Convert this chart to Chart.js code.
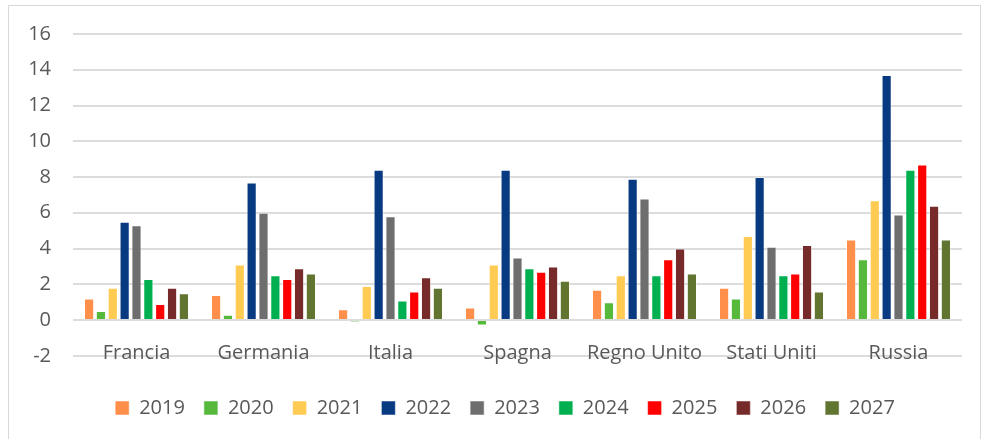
<!DOCTYPE html>
<html>
<head>
<meta charset="utf-8">
<script src="https://cdn.jsdelivr.net/npm/chart.js@4"></script>
<style>
  html, body { margin: 0; padding: 0; background: #fff; }
  #wrap { width: 981px; height: 439px; }
</style>
</head>
<body>
<div id="wrap"><canvas id="chart" width="981" height="439"></canvas></div>
<script>
// Paesi sull'asse x
const paesi = ['Francia', 'Germania', 'Italia', 'Spagna', 'Regno Unito', 'Stati Uniti', 'Russia'];

// Valori per anno, un elemento per paese
const anni = ['2019', '2020', '2021', '2022', '2023', '2024', '2025', '2026', '2027'];
const v2019 = [1.2, 1.4, 0.6, 0.7, 1.7, 1.8, 4.5];
const v2020 = [0.5, 0.3, -0.1, -0.3, 1.0, 1.2, 3.4];
const v2021 = [1.8, 3.1, 1.9, 3.1, 2.5, 4.7, 6.7];
const v2022 = [5.5, 7.7, 8.4, 8.4, 7.9, 8.0, 13.7];
const v2023 = [5.3, 6.0, 5.8, 3.5, 6.8, 4.1, 5.9];
const v2024 = [2.3, 2.5, 1.1, 2.9, 2.5, 2.5, 8.4];
const v2025 = [0.9, 2.3, 1.6, 2.7, 3.4, 2.6, 8.7];
const v2026 = [1.8, 2.9, 2.4, 3.0, 4.0, 4.2, 6.4];
const v2027 = [1.5, 2.6, 1.8, 2.2, 2.6, 1.6, 4.5];

// Tacche dell'asse y
const tickMin = -2;
const tickMax = 16;
const tickStep = 2;

const valori = [v2019, v2020, v2021, v2022, v2023, v2024, v2025, v2026, v2027];
const colori = ['#FF8F4B', '#57B93C', '#FFCB52', '#083A82', '#6E6E6E', '#00B050', '#FF0000', '#772A2A', '#617430'];

const testo = '#595959';
const font = { family: "'Open Sans', sans-serif", size: 20 };

// cornice grigia attorno al grafico
const cornice = {
    id: 'cornice',
    beforeDraw(chart) {
        const ctx = chart.ctx;
        ctx.save();
        ctx.strokeStyle = '#d9d9d9';
        ctx.lineWidth = 1;
        ctx.strokeRect(8.5, 5.5, 972, 440);
        ctx.restore();
    }
};

// sposta un po' a destra la legenda
const legendaDestra = {
    id: 'legendaDestra',
    afterLayout(chart) {
        chart.legend.left += 10;
        chart.legend.right += 10;
    }
};

new Chart(document.getElementById('chart'), {
    type: 'bar',
    data: {
        labels: paesi,
        datasets: anni.map((anno, i) => ({
            label: anno,
            data: valori[i],
            backgroundColor: colori[i],
            borderColor: 'rgba(255, 255, 255, 0.5)',
            borderWidth: 1,
            barPercentage: 0.86,
            categoryPercentage: 0.84
        }))
    },
    options: {
        responsive: false,
        animation: false,
        layout: {
            padding: { left: 28, right: 19, top: 24, bottom: 11 }
        },
        scales: {
            x: {
                position: { y: 0 },
                grid: { display: false },
                border: { display: false },
                ticks: {
                    color: testo,
                    font: font,
                    padding: 13,
                    autoSkip: false,
                    maxRotation: 0
                }
            },
            y: {
                min: tickMin,
                max: tickMax,
                grid: { color: '#dcdcdc', lineWidth: 2, drawTicks: false },
                border: { display: false },
                afterFit(scale) { scale.width = 45; },
                ticks: {
                    stepSize: tickStep,
                    color: testo,
                    font: font,
                    padding: 22
                }
            }
        },
        plugins: {
            legend: {
                position: 'bottom',
                title: { display: true, text: ' ', font: { size: 1 }, padding: { top: 22, bottom: 0 } },
                labels: {
                    color: testo,
                    font: font,
                    boxWidth: 14,
                    boxHeight: 14,
                    padding: 19
                }
            },
            tooltip: { enabled: false }
        }
    },
    plugins: [cornice, legendaDestra]
});
</script>
</body>
</html>
